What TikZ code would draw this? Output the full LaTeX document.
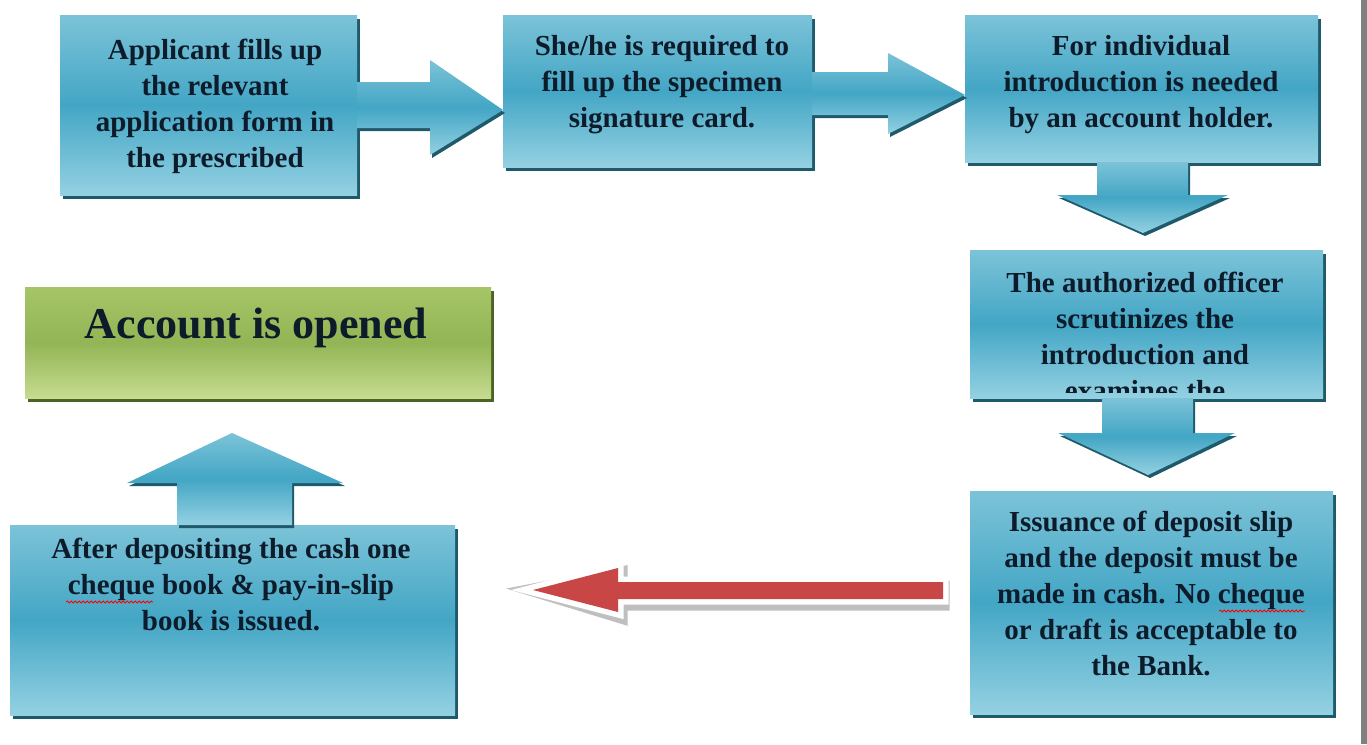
\documentclass[tikz,border=0pt]{standalone}
\usepackage{fontspec}
\setmainfont{Liberation Serif}
\usetikzlibrary{shadows,calc,decorations.pathmorphing}
\definecolor{bxtop}{HTML}{7CC3D8}
\definecolor{bxmid}{HTML}{43A6C5}
\definecolor{bxbot}{HTML}{94D1E2}
\definecolor{bxshadow}{HTML}{1E5A6B}
\definecolor{grtop}{HTML}{A6C566}
\definecolor{grmid}{HTML}{93B555}
\definecolor{grbot}{HTML}{C6DC90}
\definecolor{grshadow}{HTML}{4A6424}
\definecolor{txt}{HTML}{0D1B2A}
\definecolor{redarrow}{HTML}{C94646}
\definecolor{barcol}{HTML}{808080}
\begin{document}
\begin{tikzpicture}[x=1pt,y=-1pt,
  bluebox/.style={inner sep=0pt, outer sep=0pt, anchor=north west,
    top color=bxtop, bottom color=bxbot, middle color=bxmid,
    drop shadow={shadow xshift=3pt, shadow yshift=-4pt, fill=bxshadow, opacity=1}},
  greenbox/.style={inner sep=0pt, outer sep=0pt, anchor=north west,
    top color=grtop, bottom color=grbot, middle color=grmid,
    drop shadow={shadow xshift=3pt, shadow yshift=-4pt, fill=grshadow, opacity=1}},
  blockarrow/.style={top color=bxtop, bottom color=bxbot, middle color=bxmid,
    drop shadow={shadow xshift=2pt, shadow yshift=-3pt, fill=bxshadow, opacity=1}},
  boxtext/.style={inner sep=0pt, anchor=north, align=center, text=txt,
    font=\fontsize{29}{36}\selectfont\bfseries},
  spellwave/.style={draw=red, line width=0.8pt,
    decorate, decoration={snake, amplitude=1pt, segment length=4pt}},
]
\useasboundingbox (0,0) rectangle (1367,744);
\fill[white] (0,0) rectangle (1367,744);
\fill[barcol] (1361,0) rectangle (1367,744);

% boxes
\node[bluebox, minimum width=297pt, minimum height=180pt] (b1) at (60,15) {};
\node[bluebox, minimum width=309pt, minimum height=152pt] (b2) at (503,15) {};
\node[bluebox, minimum width=353pt, minimum height=147pt] (b3) at (965,15) {};
\node[bluebox, minimum width=353pt, minimum height=148pt] (b4) at (970,250) {};
\node[bluebox, minimum width=363pt, minimum height=223pt] (b5) at (970,491) {};
\node[bluebox, minimum width=445pt, minimum height=190pt] (b6) at (10,525) {};
\node[greenbox, minimum width=466pt, minimum height=111pt] (g) at (25,287) {};

% block arrows
\path[blockarrow] (b1.east |- 0,82) -- (430,82) -- (430,60) -- (b2.west |- 0,110)
  -- (430,155) -- (430,128) -- (b1.east |- 0,128) -- cycle;
\path[blockarrow] (b2.east |- 0,72) -- (888,72) -- (888,53) -- (b3.west |- 0,95)
  -- (888,134) -- (888,115) -- (b2.east |- 0,115) -- cycle;
\path[blockarrow] (1097,0 |- b3.south) -- (1097,195) -- (1057,195) -- (1143,233)
  -- (1228,195) -- (1188,195) -- (1188,0 |- b3.south) -- cycle;
\path[blockarrow] (1102,0 |- b4.south) -- (1102,433) -- (1058,433) -- (1148,475)
  -- (1235,433) -- (1193,433) -- (1193,0 |- b4.south) -- cycle;
\path[blockarrow] (177,0 |- b6.north) -- (177,483) -- (127,483) -- (232,433)
  -- (343,483) -- (292,483) -- (292,0 |- b6.north) -- cycle;

% red arrow
\coordinate (rtail) at ($(b5.west |- 0,590)+(-27,0)$);
\coordinate (rtip) at ($(b6.east |- 0,590)+(78,0)$);
\draw[line width=13pt, black!25, line join=miter, fill=black!25, shift={(3,5)}]
  (rtip) -- (618,568) -- (618,582) -- (rtail |- 0,582) -- (rtail |- 0,599)
  -- (618,599) -- (618,612) -- cycle;
\draw[line width=11pt, white, line join=miter, fill=white]
  (rtip) -- (618,568) -- (618,582) -- (rtail |- 0,582) -- (rtail |- 0,599)
  -- (618,599) -- (618,612) -- cycle;
\fill[redarrow]
  (rtip) -- (618,568) -- (618,582) -- (rtail |- 0,582) -- (rtail |- 0,599)
  -- (618,599) -- (618,612) -- cycle;

% texts
\node[boxtext] (t1) at (215,34) {\strut Applicant fills up\\the relevant\\application form in\\the prescribed};
\node[boxtext] (t2) at (662,30) {\strut She/he is required to\\fill up the specimen\\signature card.};
\node[boxtext] (t3) at (1141,30) {\strut For individual\\introduction is needed\\by an account holder.};
\begin{scope}
\clip (b4.north west) rectangle (1323,392);
\node[boxtext] (t4) at (1145,267) {\strut The authorized officer\\scrutinizes the\\introduction and\\examines the};
\end{scope}
\node[boxtext] (t5) at (1151,506) {\strut Issuance of deposit slip\\and the deposit must be\\made in cash. No cheque\\or draft is acceptable to\\the Bank.};
\node[boxtext] (t6) at (231,533) {\strut After depositing the cash one\\cheque book \& pay-in-slip\\book is issued.};
\node[inner sep=0pt, anchor=base, text=txt, font=\fontsize{44}{52}\selectfont\bfseries] (tg) at (256,338) {Account is opened};

% spell-check wavy underlines
\coordinate (w1a) at (66,602);
\coordinate (w1b) at (153,602);
\coordinate (w2a) at (1219,611);
\coordinate (w2b) at (1305,611);
\draw[spellwave] (w1a) -- (w1b);
\draw[spellwave] (w2a) -- (w2b);
\end{tikzpicture}
\end{document}
